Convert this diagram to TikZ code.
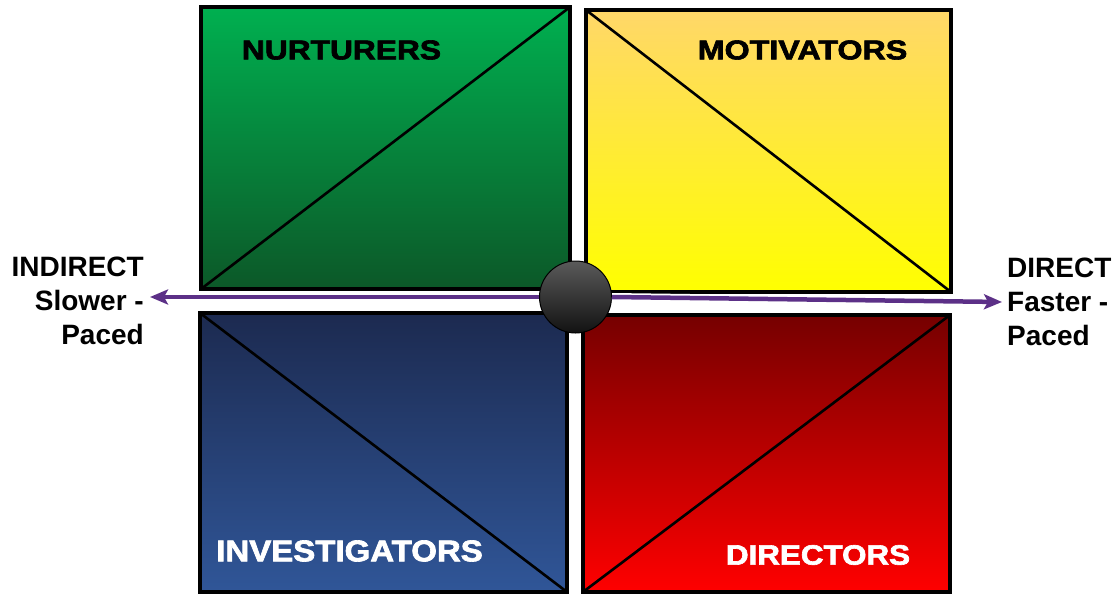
\documentclass[tikz,border=0pt]{standalone}
\usepackage{fontspec}
\setmainfont{Liberation Sans}
\newfontfamily\heavyfont{Liberation Sans Bold}[FakeBold=2.2]
\usetikzlibrary{arrows.meta}
\definecolor{grtop}{RGB}{0,176,80}
\definecolor{grbot}{RGB}{12,88,40}
\definecolor{yetop}{RGB}{255,215,105}
\definecolor{yebot}{RGB}{255,255,0}
\definecolor{bltop}{RGB}{28,42,80}
\definecolor{blbot}{RGB}{48,86,152}
\definecolor{retop}{RGB}{118,0,0}
\definecolor{rebot}{RGB}{255,0,0}
\definecolor{axis}{RGB}{92,48,135}
\definecolor{balltop}{RGB}{90,90,90}
\definecolor{ballbot}{RGB}{18,18,18}
\begin{document}
\begin{tikzpicture}[x=1pt,y=-1pt,
  quad/.style={draw=black,line width=4pt,rectangle,outer sep=0pt,inner sep=0pt},
  diag/.style={draw=black,line width=2.6pt},
  lab/.style={font=\heavyfont\fontsize{26}{30}\selectfont,inner sep=0pt},
  side/.style={font=\bfseries\fontsize{28}{34}\selectfont,inner sep=0pt},
  axisline/.style={draw=axis,line width=4.5pt,-{Stealth[length=18pt,width=15pt,inset=4pt]}}
]
\useasboundingbox (0,0) rectangle (1117,594);
\node[quad,top color=grtop,bottom color=grbot,minimum width=369pt,minimum height=282pt] (nur) at (385.5,148) {};
\node[quad,top color=yetop,bottom color=yebot,minimum width=365pt,minimum height=282pt] (mot) at (768.5,151) {};
\node[quad,top color=bltop,bottom color=blbot,minimum width=367pt,minimum height=279pt] (inv) at (383.5,452.5) {};
\node[quad,top color=retop,bottom color=rebot,minimum width=367pt,minimum height=277pt] (dir) at (766.5,453.5) {};
\draw[diag] (nur.south west) -- (nur.north east);
\draw[diag] (mot.north west) -- (mot.south east);
\draw[diag] (inv.north west) -- (inv.south east);
\draw[diag] (dir.south west) -- (dir.north east);
\node[lab,text=black] (nurl) at (341.5,50) {\scalebox{1.22}[1.05]{NURTURERS}};
\node[lab,text=black] (motl) at (802.5,50) {\scalebox{1.24}[1.05]{MOTIVATORS}};
\node[lab,text=white,font=\heavyfont\fontsize{30}{34}\selectfont] (invl) at (349.5,551) {\scalebox{1.1}[1]{INVESTIGATORS}};
\node[lab,text=white,font=\heavyfont\fontsize{28}{32}\selectfont] (dirl) at (818,555) {\scalebox{1.12}[1]{DIRECTORS}};
\node[circle,minimum size=72pt,inner sep=0pt,draw=black,line width=1pt,top color=balltop,bottom color=ballbot] (hub) at (575.5,297) {};
\coordinate (lend) at (150,297);
\coordinate (rend) at (1002,302);
\draw[white,line width=8pt] (hub.west) -- (lend);
\draw[white,line width=8pt] (hub.east) -- (rend);
\draw[axisline] (hub.west) -- (lend);
\draw[axisline] (hub.east) -- (rend);
\node[side,align=right,anchor=east] (ind) at (144,301) {INDIRECT\\Slower -\\Paced};
\node[side,align=left,anchor=west] (dirt) at (1007,302) {DIRECT\\Faster -\\Paced};
\end{tikzpicture}
\end{document}
